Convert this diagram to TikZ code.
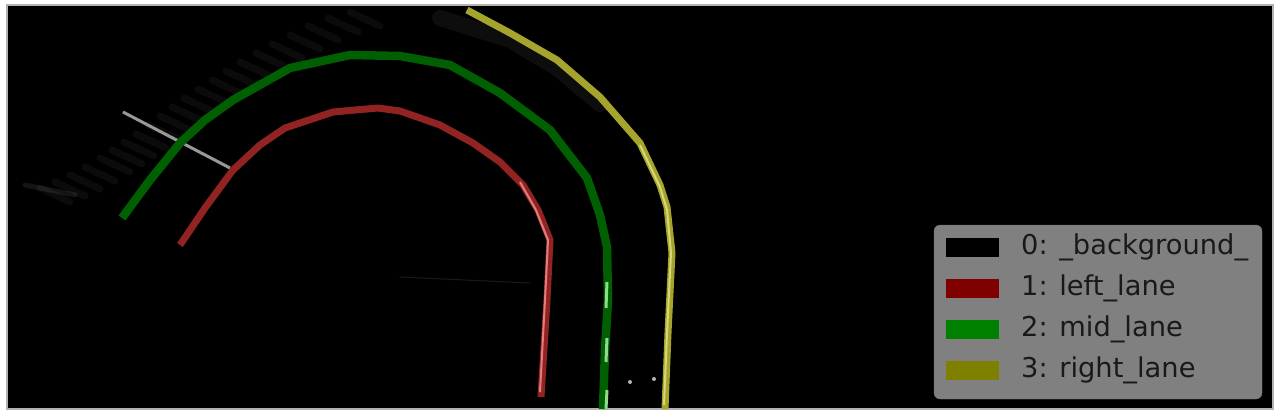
\documentclass[tikz,border=0pt]{standalone}
\usepackage{fontspec}
\setmainfont{DejaVu Sans}
\usepackage{xcolor}
\definecolor{leftred}{RGB}{145,35,35}
\definecolor{lefthi}{RGB}{225,125,125}
\definecolor{midgreen}{RGB}{0,95,0}
\definecolor{midhi}{RGB}{140,220,140}
\definecolor{rightyel}{RGB}{165,165,45}
\definecolor{righthi}{RGB}{215,215,120}
\definecolor{legmaroon}{RGB}{128,0,0}
\definecolor{leggreen}{RGB}{0,128,0}
\definecolor{legolive}{RGB}{128,128,0}

\begin{document}
\begin{tikzpicture}[x=1pt, y=-1pt,
  lane/.style={line width=#1, line join=round},
  haze/.style={white, opacity=#1, line cap=round, line join=round},
  patch/.style={minimum width=53pt, minimum height=19pt, inner sep=0pt, anchor=west},
  legtext/.style={anchor=west, inner sep=0pt, text=black!90, font=\fontsize{27.3}{31}\selectfont}]
\useasboundingbox (0,0) rectangle (1280,417);
\fill[white] (0,0) rectangle (1280,417);
% Image
\draw[draw=gray!60, fill=black, line width=1.2] (7,5) rectangle (1273,409);
% Faint streaks
\foreach \x/\y in {40/188, 55/182, 70/175, 85/167, 100/158, 112/150, 124/142, 136/134, 148/125, 160/116, 172/107, 184/98, 198/89, 212/80, 226/71, 240/62, 256/53, 272/44, 290/35, 308/26, 328/18, 350/12}
  \draw[haze=0.045, line width=7] (\x,\y) -- ++(30,14);
\draw[haze=0.08, line width=5] (25,185) -- (75,195);
\draw[haze=0.05, line width=16] (440,18) -- (510,40) -- (557,68) -- (600,104);
\draw[gray!80, line width=3] (123,112) -- (230,168);
\draw[haze=0.1, line width=1] (400,277) -- (530,283);
\fill[gray!60] (630,382) circle (2);
\fill[gray!60] (654,379) circle (2);
% Left lane
\draw[leftred, lane=7] (180,245) -- (205,208) -- (233,170) -- (260,145) -- (285,128)
  -- (333,112) -- (378,108) -- (400,111) -- (440,125) -- (473,143) -- (500,162)
  -- (523,185) -- (538,210) -- (550,240) -- (547,300) -- (541,397);
\draw[lefthi, lane=2] (520,182) -- (536,210) -- (548,240) -- (545,300) -- (540,392);
% Mid lane
\draw[midgreen, lane=8.5] (122,218) -- (150,180) -- (180,143) -- (205,120) -- (233,100)
  -- (290,68) -- (350,55) -- (400,56) -- (450,65) -- (500,93) -- (550,130)
  -- (587,178) -- (600,215) -- (607,247) -- (608,300) -- (605,350) -- (603,409);
\foreach \ya/\yb in {282/308, 338/362, 390/409}
  \draw[midhi, lane=3] (607,\ya) -- (606,\yb);
% Right lane
\draw[rightyel, lane=7] (467,10) -- (510,33) -- (557,60) -- (600,97) -- (640,143)
  -- (660,185) -- (667,207) -- (672,253) -- (668,333) -- (665,409);
\draw[righthi, lane=2] (640,145) -- (660,187) -- (667,210) -- (671,253) -- (667,333) -- (664,405);
% Legend
\draw[fill=gray, draw=gray!110, rounded corners=6] (934,225) rectangle (1262,399);
\node[patch, fill=black] (bgpatch) at (946,247.5) {};
\node[patch, fill=legmaroon] (leftpatch) at (946,288.5) {};
\node[patch, fill=leggreen] (midpatch) at (946,329.5) {};
\node[patch, fill=legolive] (rightpatch) at (946,370.5) {};
\node[legtext] (bgtext) at (1021,247.5) {0: \_background\_};
\node[legtext] (lefttext) at (1021,288.5) {1: left\_lane};
\node[legtext] (midtext) at (1021,329.5) {2: mid\_lane};
\node[legtext] (righttext) at (1021,370.5) {3: right\_lane};
\end{tikzpicture}
\end{document}
